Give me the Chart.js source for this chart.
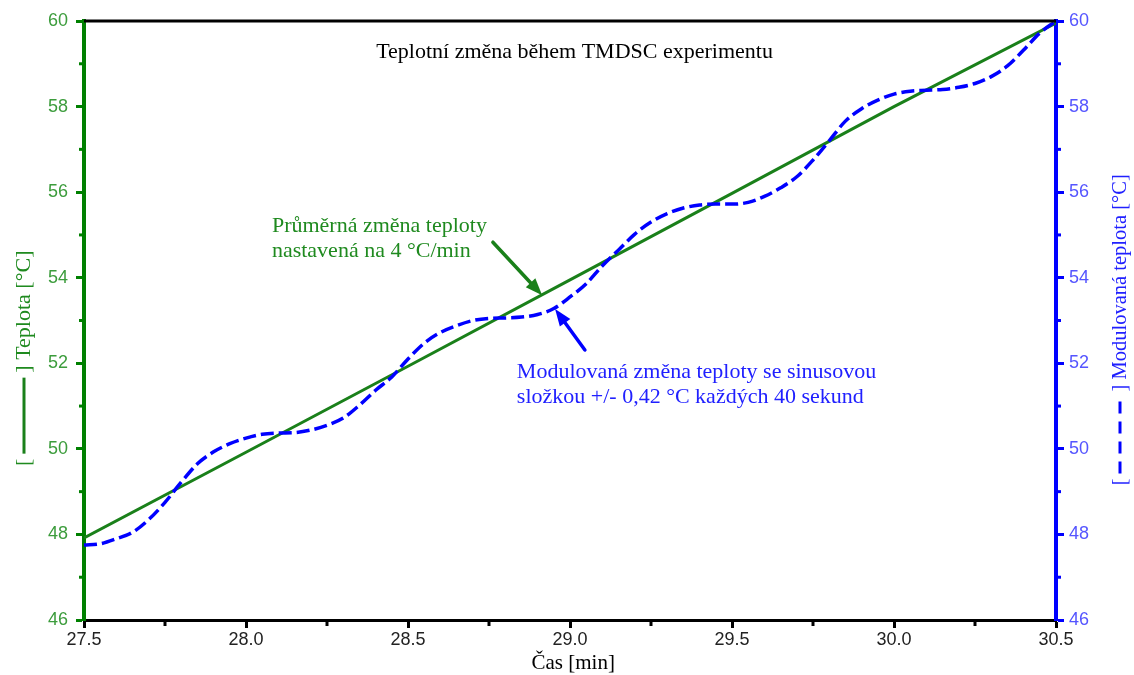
<!DOCTYPE html>
<html>
<head>
<meta charset="utf-8">
<script src="https://cdn.jsdelivr.net/npm/chart.js@4.4.1/dist/chart.umd.min.js"></script>
<style>
  html, body { margin: 0; padding: 0; background: #ffffff; }
  #wrap { width: 1134px; height: 675px; }
</style>
</head>
<body>
<div id="wrap"><canvas id="c" width="1134" height="675"></canvas></div>
<script>
// Time axis [min] and the modulated (sinusoidal) temperature [°C]
const timeMin = [27.50, 27.55, 27.60, 27.65, 27.70, 27.75, 27.80, 27.85, 27.90, 27.95,
                 28.00, 28.05, 28.10, 28.15, 28.20, 28.25, 28.30, 28.35, 28.40, 28.45,
                 28.50, 28.55, 28.60, 28.65, 28.70, 28.75, 28.80, 28.85, 28.90, 28.95,
                 29.00, 29.05, 29.10, 29.15, 29.20, 29.25, 29.30, 29.35, 29.40, 29.45,
                 29.50, 29.55, 29.60, 29.65, 29.70, 29.75, 29.80, 29.85, 29.90, 29.95,
                 30.00, 30.05, 30.10, 30.15, 30.20, 30.25, 30.30, 30.35, 30.40, 30.45, 30.50];
const modulatedTemp = [47.75, 47.78, 47.90, 48.05, 48.35, 48.75, 49.22, 49.65, 49.93, 50.12,
                       50.25, 50.34, 50.37, 50.38, 50.44, 50.55, 50.72, 51.02, 51.37, 51.68,
                       52.10, 52.47, 52.72, 52.88, 53.00, 53.05, 53.06, 53.08, 53.14, 53.28,
                       53.55, 53.86, 54.28, 54.65, 55.02, 55.30, 55.50, 55.63, 55.70, 55.72,
                       55.72, 55.76, 55.90, 56.10, 56.36, 56.75, 57.20, 57.66, 57.95, 58.15,
                       58.29, 58.36, 58.38, 58.40, 58.45, 58.54, 58.70, 58.95, 59.32, 59.72, 60.00];

// Underlying (average) heating ramp, 4 °C/min
const rampTime = [27.5, 28.0, 28.5, 29.0, 29.5, 30.0, 30.5];
const rampTemp = [47.92, 49.92, 51.93, 53.95, 55.97, 58.00, 59.95];

// Tick positions
const xMajorTicks = [27.5, 28.0, 28.5, 29.0, 29.5, 30.0, 30.5];
const xMinorTicks = [27.75, 28.25, 28.75, 29.25, 29.75, 30.25];
const yMajorTicks = [46, 48, 50, 52, 54, 56, 58, 60];
const yMinorTicks = [47, 49, 51, 53, 55, 57, 59];

// Texts
const chartTitle = 'Teplotní změna během TMDSC experimentu';
const xTitle = 'Čas [min]';
const yLeftTitle = 'Teplota [°C]';
const yRightTitle = 'Modulovaná teplota [°C]';
const rampNote = ['Průměrná změna teploty', 'nastavená na 4 °C/min'];
const modNote = ['Modulovaná změna teploty se sinusovou', 'složkou +/- 0,42 °C každých 40 sekund'];

const GREEN = '#1a801a';
const GREEN_AXIS = '#008000';
const GREEN_TEXT = '#1f8a1f';
const GREEN_TICK = '#3c9c3c';
const BLUE = '#0000ff';
const BLUE_TEXT = '#2020ff';
const BLUE_TICK = '#5555ff';
const SERIF = '"Liberation Serif", "Times New Roman", serif';
const SANS = '"Liberation Sans", Arial, sans-serif';

function toPoints(xs, ys) { return xs.map((x, i) => ({ x: x, y: ys[i] })); }

function arrow(ctx, x1, y1, x2, y2, color, width, headLen, headHalf) {
  const ang = Math.atan2(y2 - y1, x2 - x1);
  const bx = x2 - headLen * Math.cos(ang), by = y2 - headLen * Math.sin(ang);
  ctx.save();
  ctx.strokeStyle = color; ctx.fillStyle = color; ctx.lineWidth = width; ctx.lineCap = 'round';
  ctx.beginPath(); ctx.moveTo(x1, y1); ctx.lineTo(bx, by); ctx.stroke();
  ctx.beginPath();
  ctx.moveTo(x2, y2);
  ctx.lineTo(bx + headHalf * Math.sin(ang), by - headHalf * Math.cos(ang));
  ctx.lineTo(bx - headHalf * Math.sin(ang), by + headHalf * Math.cos(ang));
  ctx.closePath(); ctx.fill();
  ctx.restore();
}

const decorations = {
  id: 'decorations',
  afterDraw(chart) {
    const ctx = chart.ctx, a = chart.chartArea;
    const xs = chart.scales.x, yl = chart.scales.y, yr = chart.scales.y2;

    // top frame line
    ctx.save();
    ctx.strokeStyle = '#000'; ctx.lineWidth = 3;
    ctx.beginPath(); ctx.moveTo(a.left, a.top); ctx.lineTo(a.right, a.top); ctx.stroke();

    // minor ticks
    ctx.lineWidth = 3;
    ctx.strokeStyle = '#000';
    xMinorTicks.forEach(v => {
      const px = xs.getPixelForValue(v);
      ctx.beginPath(); ctx.moveTo(px, a.bottom); ctx.lineTo(px, a.bottom + 6); ctx.stroke();
    });
    ctx.strokeStyle = GREEN_AXIS;
    yMinorTicks.forEach(v => {
      const py = yl.getPixelForValue(v);
      ctx.beginPath(); ctx.moveTo(a.left, py); ctx.lineTo(a.left - 5, py); ctx.stroke();
    });
    ctx.strokeStyle = BLUE;
    yMinorTicks.forEach(v => {
      const py = yr.getPixelForValue(v);
      ctx.beginPath(); ctx.moveTo(a.right, py); ctx.lineTo(a.right + 5, py); ctx.stroke();
    });
    ctx.restore();

    // title
    ctx.save();
    ctx.font = '22px ' + SERIF;
    ctx.fillStyle = '#000';
    ctx.textAlign = 'center'; ctx.textBaseline = 'alphabetic';
    ctx.fillText(chartTitle, xs.getPixelForValue(29.014), a.top + 37);

    // x-axis title
    ctx.font = '21px ' + SERIF;
    ctx.fillText(xTitle, xs.getPixelForValue(29.01), a.bottom + 49);
    ctx.restore();

    // left axis title: [ —— ] Teplota [°C]
    ctx.save();
    ctx.translate(30, yl.getPixelForValue(49.6));
    ctx.rotate(-Math.PI / 2);
    ctx.font = '22px ' + SERIF;
    ctx.textBaseline = 'alphabetic'; ctx.textAlign = 'left';
    ctx.fillStyle = GREEN_TEXT;
    let cx = 0;
    ctx.fillText('[', cx, 0); cx += ctx.measureText('[').width + 5;
    ctx.strokeStyle = GREEN; ctx.lineWidth = 3;
    ctx.beginPath(); ctx.moveTo(cx, -6); ctx.lineTo(cx + 76, -6); ctx.stroke();
    cx += 81;
    ctx.fillText('] ' + yLeftTitle, cx, 0);
    ctx.restore();

    // right axis title: [ - - - ] Modulovaná teplota [°C]
    ctx.save();
    ctx.translate(1126, yr.getPixelForValue(49.15));
    ctx.rotate(-Math.PI / 2);
    ctx.font = '20.5px ' + SERIF;
    ctx.textBaseline = 'alphabetic'; ctx.textAlign = 'left';
    ctx.fillStyle = BLUE_TEXT;
    cx = 0;
    ctx.fillText('[', cx, 0); cx += ctx.measureText('[').width + 5;
    ctx.strokeStyle = BLUE; ctx.lineWidth = 3; ctx.setLineDash([12, 8]);
    ctx.beginPath(); ctx.moveTo(cx, -6); ctx.lineTo(cx + 78, -6); ctx.stroke();
    ctx.setLineDash([]);
    cx += 82;
    ctx.fillText('] ' + yRightTitle, cx, 0);
    ctx.restore();

    // annotation: average ramp
    ctx.save();
    ctx.font = '22px ' + SERIF;
    ctx.fillStyle = GREEN_TEXT; ctx.textAlign = 'left'; ctx.textBaseline = 'alphabetic';
    const gx = xs.getPixelForValue(28.08), gy = yl.getPixelForValue(55.07);
    ctx.fillText(rampNote[0], gx, gy);
    ctx.fillText(rampNote[1], gx, gy + 25);
    ctx.restore();
    arrow(ctx, xs.getPixelForValue(28.762), yl.getPixelForValue(54.83),
          xs.getPixelForValue(28.914), yl.getPixelForValue(53.59), GREEN, 3.5, 17, 6.5);

    // annotation: modulated signal
    ctx.save();
    ctx.font = '22px ' + SERIF;
    ctx.fillStyle = BLUE_TEXT; ctx.textAlign = 'left'; ctx.textBaseline = 'alphabetic';
    const bx = xs.getPixelForValue(28.836), by = yr.getPixelForValue(51.65);
    ctx.fillText(modNote[0], bx, by);
    ctx.fillText(modNote[1], bx, by + 25);
    ctx.restore();
    arrow(ctx, xs.getPixelForValue(29.046), yr.getPixelForValue(52.31),
          xs.getPixelForValue(28.954), yr.getPixelForValue(53.27), BLUE, 3.5, 17, 6.5);
  }
};

const chart = new Chart(document.getElementById('c'), {
  type: 'line',
  data: {
    datasets: [
      {
        label: 'Průměrná změna teploty',
        data: toPoints(rampTime, rampTemp),
        yAxisID: 'y',
        borderColor: GREEN,
        borderWidth: 3,
        pointRadius: 0,
        tension: 0,
        order: 2
      },
      {
        label: 'Modulovaná teplota',
        data: toPoints(timeMin, modulatedTemp),
        yAxisID: 'y2',
        borderColor: BLUE,
        borderWidth: 3.5,
        borderDash: [13, 5],
        pointRadius: 0,
        cubicInterpolationMode: 'monotone',
        order: 1
      }
    ]
  },
  options: {
    responsive: false,
    animation: false,
    devicePixelRatio: 1,
    layout: { padding: { top: 21, left: 0, right: 0, bottom: 0 } },
    plugins: { legend: { display: false }, tooltip: { enabled: false }, title: { display: false } },
    scales: {
      x: {
        type: 'linear',
        min: 27.5, max: 30.5,
        afterBuildTicks: s => { s.ticks = xMajorTicks.map(v => ({ value: v })); },
        afterFit: s => { s.height = 55; },
        border: { color: '#000', width: 3 },
        grid: { drawOnChartArea: false, drawTicks: true, tickLength: 8, tickWidth: 3, tickColor: '#000' },
        ticks: {
          color: '#222',
          font: { family: SANS, size: 18 },
          padding: 1,
          maxRotation: 0,
          callback: v => Number(v).toFixed(1)
        }
      },
      y: {
        type: 'linear', position: 'left',
        min: 46, max: 60,
        afterBuildTicks: s => { s.ticks = yMajorTicks.map(v => ({ value: v })); },
        afterFit: s => { s.width = 84; },
        border: { color: GREEN_AXIS, width: 4 },
        grid: { drawOnChartArea: false, drawTicks: true, tickLength: 8, tickWidth: 3, tickColor: GREEN_AXIS },
        ticks: { color: GREEN_TICK, font: { family: SANS, size: 18 }, padding: 8 }
      },
      y2: {
        type: 'linear', position: 'right',
        min: 46, max: 60,
        afterBuildTicks: s => { s.ticks = yMajorTicks.map(v => ({ value: v })); },
        afterFit: s => { s.width = 78; },
        border: { color: BLUE, width: 4 },
        grid: { drawOnChartArea: false, drawTicks: true, tickLength: 8, tickWidth: 3, tickColor: BLUE },
        ticks: { color: BLUE_TICK, font: { family: SANS, size: 18 }, padding: 5 }
      }
    }
  },
  plugins: [decorations]
});
</script>
</body>
</html>
